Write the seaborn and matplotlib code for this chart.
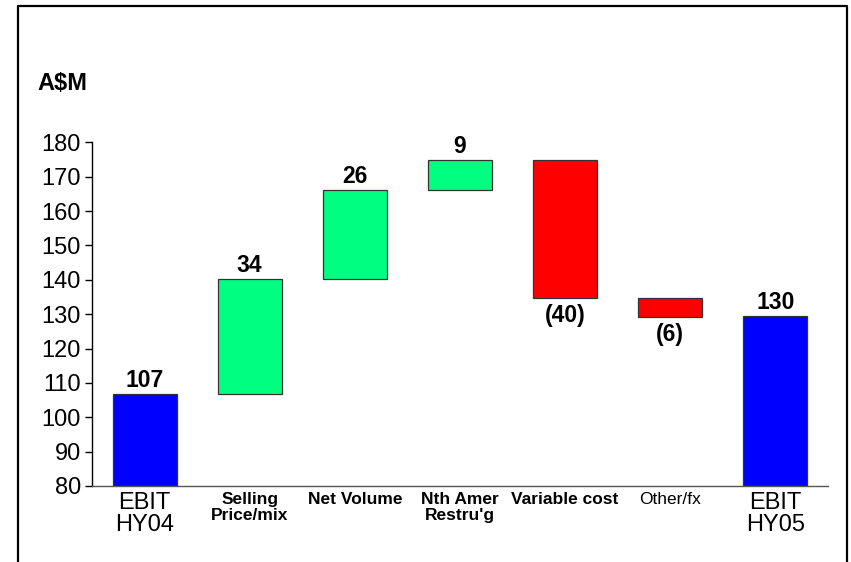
import numpy as np
import pandas as pd
import seaborn as sns
import matplotlib
matplotlib.use("Agg")
import matplotlib.pyplot as plt
from matplotlib.lines import Line2D

# ---- data (A$M) ----
categories = ["EBIT\nHY04", "Selling\nPrice/mix", "Net Volume", "Nth Amer\nRestru'g",
              "Variable cost", "Other/fx", "EBIT\nHY05"]
start_total = 106.7
changes = [33.5, 25.8, 8.9, -40.1, -5.5]
end_total = 129.5
y_ticks = [80, 90, 100, 110, 120, 130, 140, 150, 160, 170, 180]

# ---- waterfall geometry from the data ----
bottoms, heights, kinds = [0.0], [start_total], ["total"]
running = start_total
for d in changes:
    bottoms.append(min(running, running + d))
    heights.append(abs(d))
    kinds.append("up" if d >= 0 else "down")
    running += d
bottoms.append(0.0)
heights.append(end_total)
kinds.append("total")

labels = [f"{start_total:.0f}"]
for d in changes:
    labels.append(f"{d:.0f}" if d >= 0 else f"({-d:.0f})")
labels.append(f"{end_total:.0f}")

df = pd.DataFrame({"step": categories, "height": heights})

colors = {"total": "#0000FF", "up": "#00FF80", "down": "#FF0000"}

sns.set_style("white")
plt.rcParams["font.family"] = ["Liberation Sans", "DejaVu Sans"]
plt.rcParams["text.color"] = "black"
plt.rcParams["axes.labelcolor"] = "black"

fig = plt.figure(figsize=(8.51, 5.62), dpi=100)
ax = fig.add_axes([92 / 851, 1 - 486 / 562, (828 - 92) / 851, (486 - 142.3) / 562])

sns.barplot(data=df, x="step", y="height", order=categories, bottom=bottoms,
            width=0.61, color="#0000FF", edgecolor="#333333", linewidth=0.9,
            ax=ax, errorbar=None)

for patch, kind in zip(ax.patches, kinds):
    patch.set_facecolor(colors[kind])

ax.set_xlim(-0.5, len(categories) - 0.5)
ax.set_ylim(80, 180)
ax.set_yticks(y_ticks)
ax.set_xlabel("")
ax.set_ylabel("")

# value labels: above rising/total bars, below falling bars
for i, (b, h, kind, lab) in enumerate(zip(bottoms, heights, kinds, labels)):
    if kind == "down":
        ax.annotate(lab, (i, b), xytext=(0, -4.5), textcoords="offset points",
                    ha="center", va="top", fontsize=16.5, fontweight="bold",
                    color="black")
    else:
        ax.annotate(lab, (i, b + h), xytext=(0, 1.5), textcoords="offset points",
                    ha="center", va="bottom", fontsize=16.5, fontweight="bold",
                    color="black")

# axes styling
for side in ["top", "right"]:
    ax.spines[side].set_visible(False)
ax.spines["left"].set_color("black")
ax.spines["left"].set_linewidth(1.0)
ax.spines["bottom"].set_color("#555555")
ax.spines["bottom"].set_linewidth(1.0)
ax.tick_params(axis="y", direction="out", length=5, width=1.0, color="black",
               pad=3, labelsize=17, labelcolor="black", left=True)
ax.tick_params(axis="x", length=0, pad=4)

ax.set_xticks(range(len(categories)))
ax.set_xticklabels(categories)
for tick, cat in zip(ax.get_xticklabels(), categories):
    tick.set_ha("center")
    tick.set_va("top")
    tick.set_color("black")
    if cat.startswith("EBIT"):
        tick.set_fontsize(17)
        tick.set_linespacing(1.05)
    elif cat == "Other/fx":
        tick.set_fontsize(12.5)
    else:
        tick.set_fontsize(12.5)
        tick.set_fontweight("bold")
        tick.set_linespacing(1.1)

# unit label
fig.text(37 / 851, 1 - 90 / 562, "A$M", ha="left", va="baseline",
         fontsize=17, fontweight="bold", color="black")

# surrounding frame (open at the bottom)
x0, x1 = 17.5 / 851, 847 / 851
y_top = 1 - 5.5 / 562
fig.add_artist(Line2D([x0, x0, x1, x1], [-0.05, y_top, y_top, -0.05],
                      transform=fig.transFigure, color="black", linewidth=1.6))

fig.savefig("out.png", dpi=100, facecolor="white")
